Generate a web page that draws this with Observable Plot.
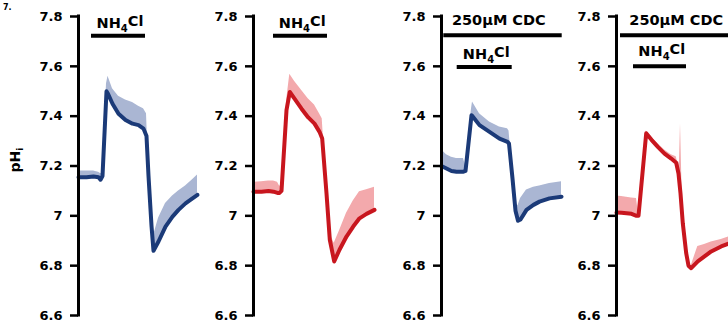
<!DOCTYPE html>
<html><head><meta charset="utf-8">
<script src="https://cdn.jsdelivr.net/npm/d3@7"></script>
<script src="https://cdn.jsdelivr.net/npm/@observablehq/plot@0.6"></script>
<style>
html,body{margin:0;padding:0;background:#fff;overflow:hidden;}
#wrap{position:relative;width:728px;height:327px;overflow:hidden;background:#fff;}
.panel{position:absolute;top:0;}
.panel svg{max-width:none !important;display:block;}
#tag{position:absolute;left:3px;top:4px;font:bold 8px "DejaVu Sans",sans-serif;line-height:8px;}
#ylab{position:absolute;left:16px;top:160px;transform:translate(-50%,-50%) rotate(-90deg);font:bold 14px "DejaVu Sans",sans-serif;white-space:nowrap;}
#ylab sub{font-size:9px;}
</style></head>
<body><div id="wrap"><div id="tag">7.</div><div id="ylab">pH<sub>i</sub></div></div>
<script>
// y ticks
const yTicks = [6.6, 6.8, 7.0, 7.2, 7.4, 7.6, 7.8];
const yTickLabels = ["6.6", "6.8", "7", "7.2", "7.4", "7.6", "7.8"];

// Panel 1: control (blue)
const p1Time  = [0, 8, 15, 20, 22, 24, 28, 29.5, 34, 40, 47, 54, 60, 65, 68, 70, 73, 75, 80, 87, 94, 100, 107, 114, 119];
const p1Mean  = [7.155, 7.155, 7.158, 7.155, 7.145, 7.16, 7.50, 7.49, 7.45, 7.41, 7.385, 7.37, 7.364, 7.35, 7.32, 7.16, 6.96, 6.86, 6.897, 6.957, 6.997, 7.024, 7.05, 7.07, 7.084];
const p1Upper = [7.18, 7.18, 7.18, 7.175, 7.17, 7.17, 7.53, 7.56, 7.51, 7.48, 7.465, 7.455, 7.44, 7.43, 7.41, 7.20, 6.99, 6.92, 6.99, 7.05, 7.08, 7.10, 7.12, 7.145, 7.164];

// Panel 2: control (red)
const p2Time  = [0, 8, 15, 20, 24, 26, 28, 33, 36.3, 41, 48, 54.7, 61, 66, 68.7, 73, 76.3, 80.7, 86, 93, 99.7, 106, 113, 121];
const p2Mean  = [7.097, 7.097, 7.10, 7.097, 7.092, 7.092, 7.10, 7.424, 7.497, 7.47, 7.43, 7.395, 7.37, 7.337, 7.31, 7.09, 6.904, 6.817, 6.864, 6.917, 6.957, 6.99, 7.008, 7.024];
const p2Upper = [7.135, 7.137, 7.14, 7.14, 7.135, 7.12, 7.12, 7.46, 7.568, 7.54, 7.504, 7.47, 7.445, 7.41, 7.39, 7.12, 6.93, 6.89, 6.94, 7.01, 7.06, 7.097, 7.105, 7.115];

// Panel 3: 250µM CDC (blue)
const p3Time  = [0, 5, 10, 15, 22, 24, 30, 31, 38, 48, 58, 66, 67.5, 71, 74, 76.5, 79, 85, 92, 98, 108, 120];
const p3Mean  = [7.20, 7.19, 7.18, 7.177, 7.177, 7.18, 7.404, 7.40, 7.364, 7.337, 7.31, 7.297, 7.29, 7.15, 7.02, 6.98, 6.985, 7.024, 7.044, 7.057, 7.07, 7.077];
const p3Upper = [7.265, 7.245, 7.235, 7.23, 7.23, 7.20, 7.43, 7.457, 7.41, 7.377, 7.357, 7.35, 7.34, 7.18, 7.05, 7.04, 7.07, 7.104, 7.115, 7.12, 7.13, 7.137];

// Panel 4: 250µM CDC (red)
const p4Time  = [0, 5, 10, 15, 20, 22, 29.7, 35, 41.3, 48, 54.7, 59.7, 62, 63, 64, 66.3, 69.7, 72, 74.7, 81.3, 88, 94.7, 104.7, 112];
const p4Mean  = [7.013, 7.012, 7.01, 7.008, 7.0, 7.0, 7.331, 7.305, 7.277, 7.25, 7.23, 7.213, 7.17, 7.13, 7.09, 6.97, 6.85, 6.80, 6.79, 6.817, 6.837, 6.857, 6.877, 6.888];
const p4Upper = [7.08, 7.078, 7.075, 7.072, 7.07, 7.005, 7.34, 7.315, 7.29, 7.264, 7.245, 7.237, 7.20, 7.22, 7.37, 6.98, 6.86, 6.81, 6.80, 6.877, 6.885, 6.895, 6.905, 6.915];

// Treatment bars
const barPanel   = [1, 2, 3, 3, 4, 4];
const barLabel   = ["NH₄Cl", "NH₄Cl", "250µM CDC", "NH₄Cl", "250µM CDC", "NH₄Cl"];
const barStart   = [13, 20, 2.3, 15.7, 4, 17];
const barEnd     = [67, 74, 120.7, 70.7, 125, 70];
const barLevel   = [7.723, 7.723, 7.725, 7.597, 7.725, 7.60];
const labelX     = [41.5, 48.7, 57.3, 44.8, 59.7, 45.3];
const labelLevel = [7.774, 7.774, 7.784, 7.65, 7.784, 7.662];

const wrap = document.getElementById("wrap");

function panel(id, time, mean, upper, lineColor, bandColor, left, mL, mR) {
  const rows = time.map((t, k) => ({t, mean: mean[k], upper: upper[k]}));
  const ann = barPanel.map((p, k) => ({p, label: barLabel[k], x1: barStart[k], x2: barEnd[k], y: barLevel[k], lx: labelX[k], ly: labelLevel[k]}))
    .filter(d => d.p === id);
  const svg = Plot.plot({
    width: mL + 122 + mR,
    height: 327,
    marginLeft: mL, marginRight: mR, marginTop: 16, marginBottom: 12,
    x: {domain: [0, 122], axis: null},
    y: {domain: [6.6, 7.8]},
    style: {fontFamily: "'DejaVu Sans', sans-serif", fontWeight: "bold", fontSize: "13px", color: "#000", background: "transparent", overflow: "visible"},
    marks: [
      Plot.areaY(rows, {x: "t", y1: "mean", y2: "upper", fill: bandColor}),
      Plot.line(rows, {x: "t", y: "mean", stroke: lineColor, strokeWidth: 4, strokeLinejoin: "round", strokeLinecap: "round"}),
      Plot.axisY({ticks: yTicks, anchor: "left", tickSize: 8, tickPadding: 8, strokeWidth: 2.5, label: null,
        tickFormat: d => yTickLabels[yTicks.indexOf(d)]}),
      Plot.ruleX([0], {y1: 6.6, y2: 7.8, strokeWidth: 3, strokeLinecap: "square"}),
      Plot.ruleY(ann, {x1: "x1", x2: "x2", y: "y", strokeWidth: 4}),
      Plot.text(ann, {x: "lx", y: "ly", text: "label", fontSize: 14.5, fontWeight: "bold", fill: "#000"})
    ]
  });
  // render the subscript 4 of NH4Cl as a lowered, smaller digit
  d3.select(svg).selectAll("text").each(function () {
    const s = this.textContent;
    if (s.includes("₄")) {
      const [a, b] = s.split("₄");
      const t = d3.select(this);
      t.text(null);
      t.append("tspan").text(a);
      t.append("tspan").attr("font-size", 10).attr("dy", "0.45em").text("4");
      t.append("tspan").attr("dy", "-0.45em").text(b);
    }
  });
  const div = document.createElement("div");
  div.className = "panel";
  div.style.left = left + "px";
  div.appendChild(svg);
  wrap.appendChild(div);
}

const blueLine = "#1b3a78", blueBand = "#aab6d3";
const redLine = "#c8161e", redBand = "#f3a9ac";

panel(1, p1Time, p1Mean, p1Upper, blueLine, blueBand, 0, 78, 8);
panel(2, p2Time, p2Mean, p2Upper, redLine, redBand, 208, 45, 6);
panel(3, p3Time, p3Mean, p3Upper, blueLine, blueBand, 381, 60, 6);
panel(4, p4Time, p4Mean, p4Upper, redLine, redBand, 569, 47, 20);
</script>
</body></html>
